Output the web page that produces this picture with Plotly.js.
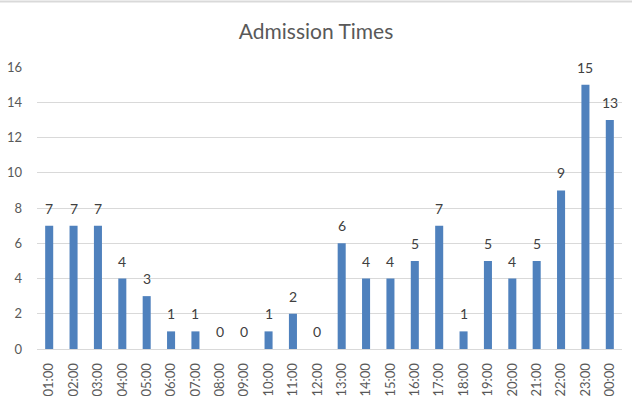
<!DOCTYPE html>
<html>
<head>
<meta charset="utf-8">
<script src="https://cdn.plot.ly/plotly-3.0.1.min.js"></script>
<style>html,body{margin:0;padding:0;background:#fff;}#chart{width:632px;height:406px;}</style>
</head>
<body>
<div id="chart"></div>
<script>
const categories = ["01:00","02:00","03:00","04:00","05:00","06:00","07:00","08:00","09:00","10:00","11:00","12:00","13:00","14:00","15:00","16:00","17:00","18:00","19:00","20:00","21:00","22:00","23:00","00:00"];
const admissions = [7,7,7,4,3,1,1,0,0,1,2,0,6,4,4,5,7,1,5,4,5,9,15,13];
const yTicks = [0,2,4,6,8,10,12,14,16];

const font = "Lato, 'Open Sans', sans-serif";
const labels = categories.map((c, i) => ({
  x: c, y: admissions[i], xref: 'x', yref: 'y',
  text: String(admissions[i]), showarrow: false,
  yanchor: 'bottom', yshift: 7,
  font: {family: font, size: 14, color: '#404040'}
}));

Plotly.newPlot('chart', [{
  type: 'bar',
  x: categories,
  y: admissions,
  marker: {color: '#4F81BD'},
  hoverinfo: 'x+y'
}], {
  width: 632, height: 406,
  margin: {l: 37, r: 10, t: 67, b: 57, pad: 0},
  paper_bgcolor: '#ffffff', plot_bgcolor: '#ffffff',
  bargap: 0.67,
  showlegend: false,
  title: {text: 'Admission Times', font: {family: font, size: 21, color: '#595959'}, x: 0.5, xanchor: 'center', y: 0.922, yanchor: 'middle'},
  xaxis: {
    type: 'category',
    tickangle: -90,
    tickfont: {family: font, size: 13, color: '#595959'},
    showgrid: false,
    showline: true, linecolor: '#d9d9d9', linewidth: 1,
    ticks: '', ticklabelstandoff: 8,
    zeroline: false
  },
  yaxis: {
    range: [0, 16],
    tickvals: yTicks,
    tickfont: {family: font, size: 13, color: '#595959'},
    showgrid: true, gridcolor: '#d9d9d9', gridwidth: 1,
    zeroline: false, showline: false,
    ticks: '', ticklabelstandoff: 14
  },
  annotations: labels,
  shapes: [{type: 'line', xref: 'paper', yref: 'paper', x0: -0.07, x1: 1.02, y0: 1.232, y1: 1.232, line: {color: '#d9d9d9', width: 2}}]
}, {displayModeBar: false, staticPlot: true});
</script>
</body>
</html>
